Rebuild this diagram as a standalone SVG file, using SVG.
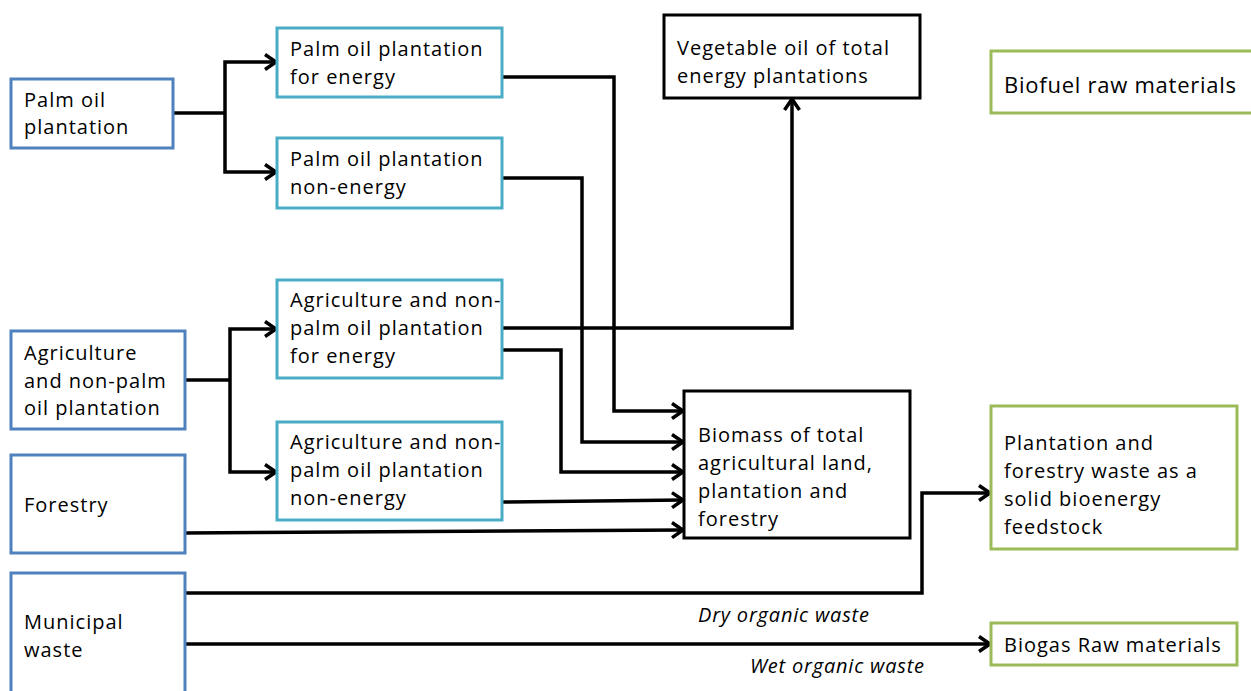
<svg xmlns="http://www.w3.org/2000/svg" width="1251" height="691" viewBox="0 0 1251 691">
<defs>
<style>
.t{font-family:"Open Sans","Liberation Sans",sans-serif;font-size:20px;letter-spacing:1px;fill:#000}
.i{font-style:italic;letter-spacing:0.8px}
.b1{fill:#fff;stroke:#4F81BD;stroke-width:3}
.b2{fill:#fff;stroke:#4BACC6;stroke-width:3}
.b3{fill:#fff;stroke:#9BBB59;stroke-width:3}
.b4{fill:#fff;stroke:#000;stroke-width:3}
.c{fill:none;stroke:#000;stroke-width:3.5;stroke-linejoin:miter}
.a{marker-end:url(#ah)}
</style>
<marker id="ah" markerUnits="userSpaceOnUse" viewBox="0 0 14 18" refX="12" refY="9" markerWidth="14" markerHeight="18" orient="auto">
<path d="M1,1.5 L12,9 L1,16.5" fill="none" stroke="#000" stroke-width="3.5"/>
</marker>
</defs>
<g id="connectors">
<path class="c" d="M173,113 H225"/>
<path class="c a" d="M225,113 V62 H276"/>
<path class="c a" d="M225,113 V172 H276"/>
<path class="c" d="M185,380 H230"/>
<path class="c a" d="M230,380 V329 H276"/>
<path class="c a" d="M230,380 V472 H276"/>
<path class="c a" d="M502,77 H614 V411 H683"/>
<path class="c a" d="M502,178 H582 V442 H683"/>
<path class="c a" d="M502,328 H792 V99"/>
<path class="c a" d="M502,350 H561 V472 H683"/>
<path class="c a" d="M502,502 L683,500"/>
<path class="c a" d="M185,533 L683,530"/>
<path class="c a" d="M185,593 H922 V493 H990"/>
<path class="c a" d="M185,644 H990"/>
<text class="t i" x="698" y="622">Dry organic waste</text>
<text class="t i" x="750" y="673">Wet organic waste</text>
</g>
<g id="n-palm">
<rect class="b1" x="11" y="79" width="162" height="69"/>
<text class="t" x="24" y="107">Palm oil</text>
<text class="t" x="24" y="134">plantation</text>
</g>
<g id="n-palm-energy">
<rect class="b2" x="277" y="28" width="225" height="69"/>
<text class="t" x="290" y="56">Palm oil plantation</text>
<text class="t" x="290" y="84">for energy</text>
</g>
<g id="n-palm-nonenergy">
<rect class="b2" x="277" y="138" width="225" height="70"/>
<text class="t" x="290" y="166">Palm oil plantation</text>
<text class="t" x="290" y="194">non-energy</text>
</g>
<g id="n-vegoil">
<rect class="b4" x="664" y="15" width="256" height="83"/>
<text class="t" x="677" y="55">Vegetable oil of total</text>
<text class="t" x="677" y="83">energy plantations</text>
</g>
<g id="n-biofuel">
<rect class="b3" x="991" y="51" width="262" height="62"/>
<text class="t" x="1004" y="93" style="font-size:22px;letter-spacing:0.75px">Biofuel raw materials</text>
</g>
<g id="n-agri">
<rect class="b1" x="11" y="331" width="174" height="98"/>
<text class="t" x="24" y="360">Agriculture</text>
<text class="t" x="24" y="388">and non-palm</text>
<text class="t" x="24" y="415">oil plantation</text>
</g>
<g id="n-agri-energy">
<rect class="b2" x="277" y="280" width="225" height="98"/>
<text class="t" x="290" y="307">Agriculture and non-</text>
<text class="t" x="290" y="335">palm oil plantation</text>
<text class="t" x="290" y="363">for energy</text>
</g>
<g id="n-agri-nonenergy">
<rect class="b2" x="277" y="422" width="225" height="98"/>
<text class="t" x="290" y="449">Agriculture and non-</text>
<text class="t" x="290" y="477">palm oil plantation</text>
<text class="t" x="290" y="505">non-energy</text>
</g>
<g id="n-forestry">
<rect class="b1" x="11" y="455" width="174" height="98"/>
<text class="t" x="24" y="512">Forestry</text>
</g>
<g id="n-municipal">
<rect class="b1" x="11" y="573" width="174" height="130"/>
<text class="t" x="24" y="629">Municipal</text>
<text class="t" x="24" y="657">waste</text>
</g>
<g id="n-biomass">
<rect class="b4" x="684" y="391" width="226" height="147"/>
<text class="t" x="698" y="442">Biomass of total</text>
<text class="t" x="698" y="470">agricultural land,</text>
<text class="t" x="698" y="498">plantation and</text>
<text class="t" x="698" y="526">forestry</text>
</g>
<g id="n-solid">
<rect class="b3" x="991" y="406" width="246" height="143"/>
<text class="t" x="1004" y="450">Plantation and</text>
<text class="t" x="1004" y="478">forestry waste as a</text>
<text class="t" x="1004" y="506">solid bioenergy</text>
<text class="t" x="1004" y="534">feedstock</text>
</g>
<g id="n-biogas">
<rect class="b3" x="991" y="623" width="246" height="42"/>
<text class="t" x="1004" y="652">Biogas Raw materials</text>
</g>
</svg>
